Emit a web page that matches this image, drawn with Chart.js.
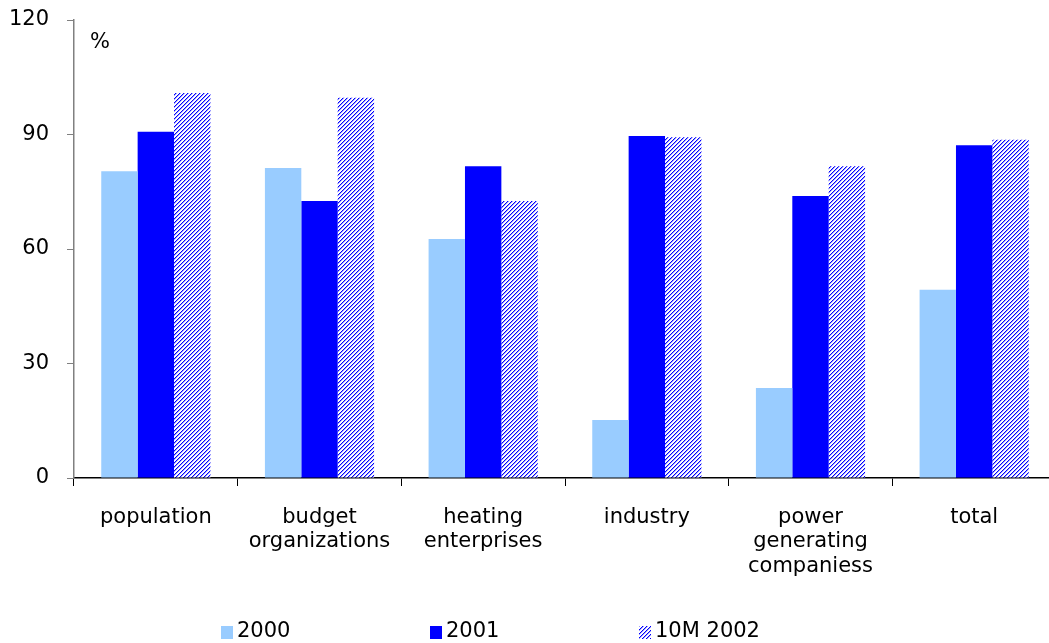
<!DOCTYPE html>
<html><head><meta charset="utf-8">
<script src="https://cdn.jsdelivr.net/npm/chart.js@4/dist/chart.umd.min.js"></script>
<style>html,body{margin:0;padding:0;overflow:hidden;background:#fff}#wrap{width:1060px;height:643px;position:relative}</style>
</head><body><div id="wrap"><canvas id="c" width="1060" height="643"></canvas></div>
<script>
const categories = ["population", ["budget","organizations"], ["heating","enterprises"], "industry", ["power","generating","companiess"], "total"];
const seriesNames = ["2000","2001","10M 2002"];
const values2000 = [80.4, 81.2, 62.6, 15.2, 23.6, 49.3];
const values2001 = [90.7, 72.6, 81.7, 89.6, 73.9, 87.2];
const values2002 = [100.9, 99.6, 72.6, 89.3, 81.7, 88.6];
const yTicks = [0, 30, 60, 90, 120];
const unitLabel = "%";

const FONT = "Verdana, 'DejaVu Sans', sans-serif";
const FS = 21;

function hatch(){
  const p = document.createElement('canvas'); p.width = 4; p.height = 4;
  const g = p.getContext('2d');
  g.fillStyle = '#fff'; g.fillRect(0,0,4,4);
  for (let x=0;x<4;x++) for (let y=0;y<4;y++){
    const d = (x+y)%4;
    if (d===0){ g.fillStyle='#0000ff'; g.fillRect(x,y,1,1); }
    else if (d===1){ g.fillStyle='#a0a0ff'; g.fillRect(x,y,1,1); }
  }
  return document.getElementById('c').getContext('2d').createPattern(p,'repeat');
}
const hatchPattern = hatch();
const colors = ['#99ccff', '#0000ff', hatchPattern];

const extras = {
  id: 'extras',
  afterDraw(chart){
    const ctx = chart.ctx, ca = chart.chartArea;
    ctx.save();
    ctx.font = FS + "px " + FONT;
    ctx.fillStyle = '#000';
    ctx.textBaseline = 'middle';
    ctx.textAlign = 'left';
    ctx.fillText(unitLabel, ca.left + 16, ca.top + 23);
    // legend
    const startX = 221, step = 209, y = 632;
    chart.data.datasets.forEach((ds, i) => {
      const bx = startX + step*i;
      ctx.fillStyle = ds.backgroundColor;
      ctx.fillRect(bx, y-6, 12, 13);
      ctx.fillStyle = '#000';
      ctx.fillText(ds.label, bx + 16, y);
    });
    ctx.restore();
  }
};

new Chart(document.getElementById('c'), {
  type: 'bar',
  data: {
    labels: categories,
    datasets: [
      { label: seriesNames[0], data: values2000, backgroundColor: colors[0] },
      { label: seriesNames[1], data: values2001, backgroundColor: colors[1] },
      { label: seriesNames[2], data: values2002, backgroundColor: colors[2] }
    ]
  },
  options: {
    responsive: false,
    animation: false,
    devicePixelRatio: 1,
    categoryPercentage: 0.667,
    barPercentage: 1.0,
    layout: { padding: { left: 0, top: 20, right: 4, bottom: 65 } },
    plugins: { legend: { display: false }, tooltip: { enabled: false } },
    scales: {
      x: {
        grid: { display: true, drawOnChartArea: false, drawTicks: true, tickLength: 8, color: '#000', offset: true },
        border: { color: '#000', width: 1.5 },
        ticks: { color: '#000', font: { family: FONT, size: FS, lineHeight: 1.17 }, padding: 19, maxRotation: 0, autoSkip: false },
        afterFit(s){ s.height = 100; s.paddingLeft = 0; s.paddingRight = 0; }
      },
      y: {
        min: 0, max: 120,
        afterBuildTicks(s){ s.ticks = yTicks.map(v => ({ value: v })); },
        grid: { drawOnChartArea: false, drawTicks: true, tickLength: 7, color: '#808080' },
        border: { color: '#808080', width: 1.5 },
        ticks: { color: '#000', font: { family: FONT, size: FS }, padding: 18 },
        afterFit(s){ s.width = 74; s.paddingTop = 0; s.paddingBottom = 0; }
      }
    }
  },
  plugins: [extras]
});
</script>
</body></html>
